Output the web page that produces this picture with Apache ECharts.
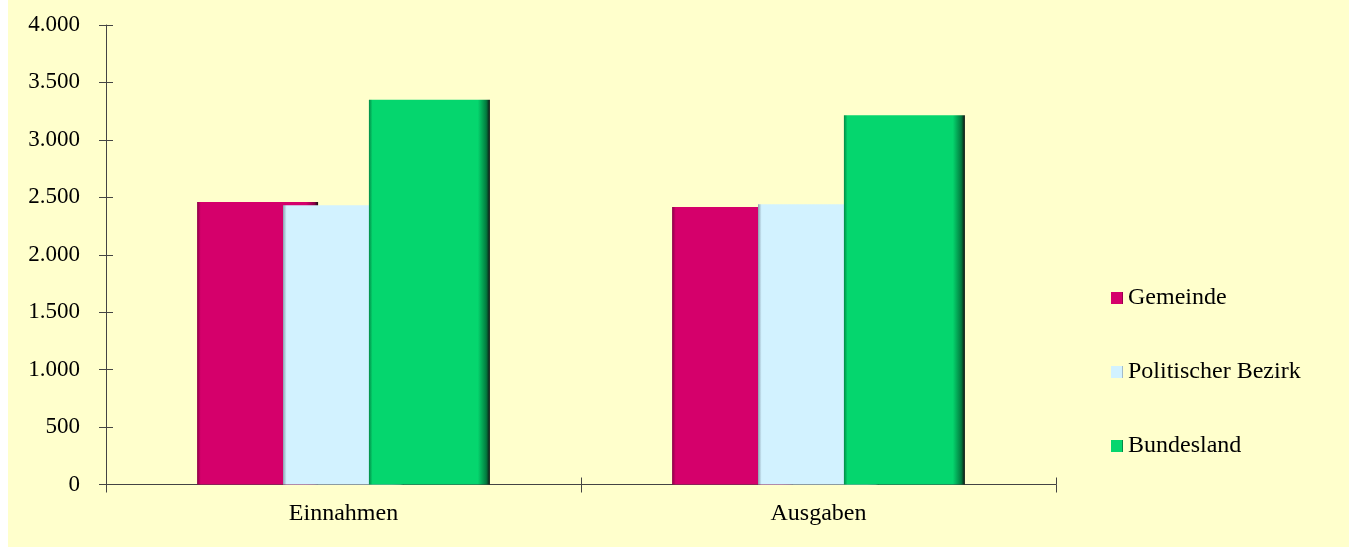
<!DOCTYPE html>
<html>
<head>
<meta charset="utf-8">
<script src="https://cdn.jsdelivr.net/npm/echarts@6/dist/echarts.min.js"></script>
<style>
html,body{margin:0;padding:0;background:#ffffff;}
#chart{position:absolute;left:8px;top:0;width:1341px;height:547px;background:#FFFFCC;}
</style>
</head>
<body>
<div id="chart"></div>
<script>
const categories = ['Einnahmen', 'Ausgaben'];
const seriesNames = ['Gemeinde', 'Politischer Bezirk', 'Bundesland'];
const gemeinde = [2460, 2415];
const bezirk = [2430, 2440];
const bundesland = [3350, 3215];
const yTicks = [0, 500, 1000, 1500, 2000, 2500, 3000, 3500, 4000];

function grad(dark, base, edge) {
  return new echarts.graphic.LinearGradient(0, 0, 1, 0, [
    {offset: 0, color: dark},
    {offset: 0.03, color: base},
    {offset: 0.9, color: base},
    {offset: 0.97, color: edge},
    {offset: 1, color: '#111'}
  ]);
}

const fmt = v => String(v).replace(/\B(?=(\d{3})+(?!\d))/g, '.');
const font = 'Liberation Serif';
const axisColor = '#444';

const chart = echarts.init(document.getElementById('chart'));
chart.setOption({
  animation: false,
  grid: {left: 98, right: 293, top: 25, bottom: 62.5, containLabel: false},
  legend: {
    orient: 'vertical', left: 1098, top: 281,
    itemWidth: 12, itemHeight: 12, itemGap: 50,
    icon: 'rect',
    textStyle: {fontFamily: font, fontSize: 24, color: '#000', lineHeight: 24},
    data: seriesNames
  },
  xAxis: [{
    type: 'category', data: categories,
    axisLine: {lineStyle: {color: axisColor, width: 1}},
    axisTick: {show: true, length: 8, lineStyle: {color: axisColor}},
    axisLabel: {fontFamily: font, fontSize: 24, color: '#000', margin: 17}
  }, {
    type: 'category', data: categories, position: 'bottom',
    axisLine: {show: false},
    axisTick: {show: true, inside: true, length: 7, lineStyle: {color: axisColor}},
    axisLabel: {show: false}
  }],
  yAxis: [{
    type: 'value', min: 0, max: 4000, interval: 500,
    axisLine: {show: true, lineStyle: {color: axisColor}},
    axisTick: {show: true, length: 7, lineStyle: {color: axisColor}},
    splitLine: {show: false},
    axisLabel: {fontFamily: font, fontSize: 23, color: '#000', margin: 26, formatter: fmt}
  }, {
    type: 'value', min: 0, max: 4000, interval: 500, position: 'left',
    axisLine: {show: false},
    axisTick: {show: true, inside: true, length: 7, lineStyle: {color: axisColor}},
    splitLine: {show: false},
    axisLabel: {show: false}
  }],
  series: [
    {name: seriesNames[0], type: 'bar', data: gemeinde, barWidth: 121, barGap: '-29%',
     itemStyle: {color: grad('#8a0045', '#D5006B', '#8a0045')}},
    {name: seriesNames[1], type: 'bar', data: bezirk, barWidth: 121, barGap: '-29%',
     itemStyle: {color: grad('#8aa0b0', '#D2F2FF', '#9ab0be')}},
    {name: seriesNames[2], type: 'bar', data: bundesland, barWidth: 121, barGap: '-29%',
     itemStyle: {color: grad('#028a46', '#05D66E', '#027a3e')}}
  ]
});
</script>
</body>
</html>
